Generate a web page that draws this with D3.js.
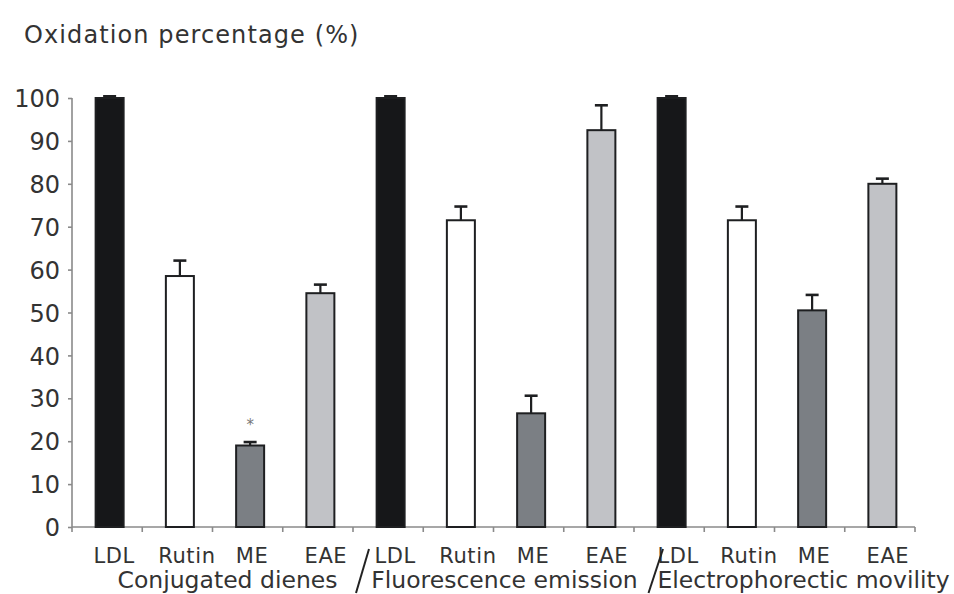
<!DOCTYPE html>
<html><head><meta charset="utf-8">
<script src="https://cdn.jsdelivr.net/npm/d3@7"></script>
<style>body{margin:0;background:#fff}svg{display:block}text{font-family:"DejaVu Sans",Verdana,sans-serif}</style>
</head><body><svg id="c" width="954" height="594"></svg>
<script>
const groups = ["Conjugated dienes", "Fluorescence emission", "Electrophorectic movility"];
const treatments = ["LDL", "Rutin", "ME", "EAE"];
const conjugatedDienes = [100, 58.5, 19, 54.5];
const conjugatedDienesErr = [0.4, 3.6, 0.8, 2.0];
const fluorescenceEmission = [100, 71.5, 26.5, 92.5];
const fluorescenceEmissionErr = [0.4, 3.2, 4.1, 5.8];
const electrophoreticMobility = [100, 71.5, 50.5, 80];
const electrophoreticMobilityErr = [0.4, 3.2, 3.6, 1.2];
const yTicks = [0,10,20,30,40,50,60,70,80,90,100];
const fills = {LDL:"#161719", Rutin:"#ffffff", ME:"#7b7f84", EAE:"#c1c2c6"};
const labelNudge = {LDL:7, Rutin:9.5, ME:4.5, EAE:8};

const seriesVals = [conjugatedDienes, fluorescenceEmission, electrophoreticMobility];
const seriesErr = [conjugatedDienesErr, fluorescenceEmissionErr, electrophoreticMobilityErr];
const data = [];
groups.forEach((g,gi)=>treatments.forEach((t,ti)=>data.push({key:g+"|"+t, group:g, gi, t, v:seriesVals[gi][ti], e:seriesErr[gi][ti]})));

const svg = d3.select("#c");
const x = d3.scaleBand().domain(data.map(d=>d.key)).range([72,915]).padding(0);
const y = d3.scaleLinear().domain([0,100]).range([527,98]);
const axisCol = "#8a8a8a", textCol = "#333";
const bw = 28, off = 2.5;

// title
svg.append("text").attr("x",24).attr("y",43).attr("font-size",24).attr("letter-spacing",1.1).attr("fill",textCol).text("Oxidation percentage (%)");

// y axis
const ya = svg.append("g").attr("transform","translate(72,0)")
  .call(d3.axisLeft(y).tickValues(yTicks).tickSize(4).tickPadding(8));
ya.select(".domain").attr("stroke",axisCol).attr("stroke-width",1.6).attr("d","M0,98V527");
ya.selectAll(".tick line").attr("stroke",axisCol).attr("stroke-width",1.6);
ya.selectAll(".tick text").attr("font-size",24).attr("fill",textCol).attr("font-family","DejaVu Sans").attr("dy","0.36em");

// x axis with boundary ticks
const boundaries = data.map(d=>x(d.key)).concat([x.range()[1]]);
const xa = svg.append("g");
xa.append("line").attr("x1",72).attr("x2",915).attr("y1",527).attr("y2",527).attr("stroke",axisCol).attr("stroke-width",1.6);
xa.selectAll("line.tk").data(boundaries).join("line").attr("class","tk")
  .attr("x1",d=>d).attr("x2",d=>d).attr("y1",527).attr("y2",532).attr("stroke",axisCol).attr("stroke-width",1.6);

// bars
svg.append("g").selectAll("rect").data(data).join("rect")
  .attr("x",d=>x(d.key)+x.bandwidth()/2+off-bw/2).attr("width",bw)
  .attr("y",d=>y(d.v)).attr("height",d=>y(0)-y(d.v))
  .attr("fill",d=>fills[d.t]).attr("stroke","#1e1f21").attr("stroke-width",2);

// error bars
const eb = svg.append("g").attr("stroke","#1e1f21").attr("stroke-width",2.2);
data.forEach(d=>{
  const cx = x(d.key)+x.bandwidth()/2+off;
  eb.append("line").attr("x1",cx).attr("x2",cx).attr("y1",y(d.v)).attr("y2",y(d.v+d.e));
  eb.append("line").attr("x1",cx-6.5).attr("x2",cx+6.5).attr("y1",y(d.v+d.e)).attr("y2",y(d.v+d.e)).attr("stroke-width",2.6);
});

// significance asterisk
const sig = data.find(d=>d.gi===0 && d.t==="ME");
svg.append("text").attr("x",x(sig.key)+x.bandwidth()/2+off).attr("y",y(sig.v+sig.e)-12)
  .attr("text-anchor","middle").attr("font-size",15).attr("fill","#777").text("*");

// category labels
svg.append("g").selectAll("text").data(data).join("text")
  .attr("x",d=>x(d.key)+x.bandwidth()/2+labelNudge[d.t]+(d.gi===2&&d.t==="LDL"?2:0)).attr("y",563).attr("text-anchor","middle")
  .attr("font-size",21).attr("letter-spacing",0.6).attr("fill",textCol).text(d=>d.t);

// group labels
const gOff = [15, 11, 29];
groups.forEach((g,gi)=>{
  const a = x(g+"|LDL"), b = x(g+"|EAE")+x.bandwidth();
  svg.append("text").attr("x",(a+b)/2+gOff[gi]).attr("y",588).attr("text-anchor","middle")
    .attr("font-size",23.5).attr("fill",textCol).text(g);
});

// slashes between groups
const slashOff = [[16,3],[29,14.5]];
[1,2].forEach((gi,i)=>{
  const bx = x(groups[gi]+"|LDL");
  svg.append("line").attr("x1",bx+slashOff[i][0]).attr("y1",549).attr("x2",bx+slashOff[i][1]).attr("y2",593)
    .attr("stroke","#222").attr("stroke-width",2);
});
</script></body></html>
